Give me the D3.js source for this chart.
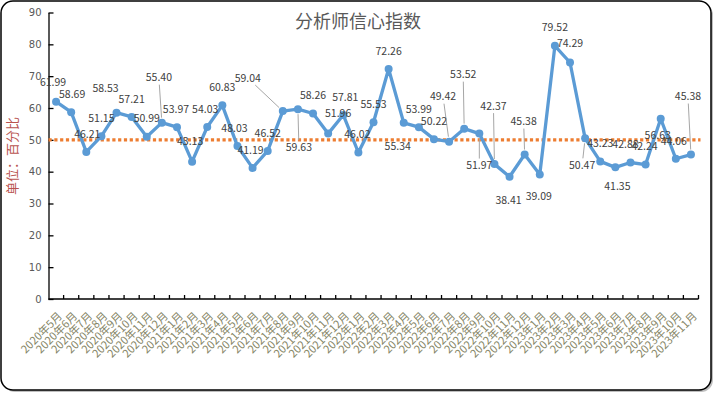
<!DOCTYPE html>
<html>
<head>
<meta charset="utf-8">
<script src="https://cdn.jsdelivr.net/npm/d3@7"></script>
<style>
  body { margin: 0; background: #fff; }
  #chart { width: 715px; height: 394px; }
</style>
</head>
<body>
<div id="chart"></div>
<script>
// months on the category axis
var months = [
    "2020年5月", "2020年6月", "2020年7月", "2020年8月", "2020年9月", "2020年10月", "2020年11月", "2020年12月",
    "2021年1月", "2021年2月", "2021年3月", "2021年4月", "2021年5月", "2021年6月", "2021年7月", "2021年8月",
    "2021年9月", "2021年10月", "2021年11月", "2021年12月", "2022年1月", "2022年2月", "2022年3月", "2022年4月",
    "2022年5月", "2022年6月", "2022年7月", "2022年8月", "2022年9月", "2022年10月", "2022年11月", "2022年12月",
    "2023年1月", "2023年2月", "2023年3月", "2023年4月", "2023年5月", "2023年6月", "2023年7月", "2023年8月",
    "2023年9月", "2023年10月", "2023年11月"
];

// 分析师信心指数
var confidence = [
    61.99, 58.69, 46.21, 51.15, 58.53, 57.21, 50.99, 55.40, 53.97, 43.13,
    54.03, 60.83, 48.03, 41.19, 46.52, 59.04, 59.63, 58.26, 51.96, 57.81,
    46.02, 55.53, 72.26, 55.34, 53.99, 50.22, 49.42, 53.52, 51.97, 42.37,
    38.41, 45.38, 39.09, 79.52, 74.29, 50.47, 43.23, 41.35, 42.88, 42.24,
    56.63, 44.06, 45.38
];

var yTicks = [0, 10, 20, 30, 40, 50, 60, 70, 80, 90];
var referenceLevel = 50;

// where each data label sits, relative to its point (label centre)
var labelDx = [-3, 1, 1, 0, -11, 0, 0, -3, -1, -2, -2, 0, -3, -2, 0, -35, 1, 0, 10, 2,
    -1, 0, 0, -6, 0, 0, -6, -1, 0, -1, -1, -1, -1, 0, 0, -3, 0, 2, -5, -1, -3, -2, -3];
var labelDy = [-19, -18, -18, -18, -24, -18, -18, -45, -18, -20, -18, -18, -18, -18, -18, -33, 38, -18, -20, -18,
    -18, -18, -18, 23, -18, -18, -45, -54, 32, -58, 24, -33, 22, -19, -19, 27, -18, 19, -18, -18, 17, -17, -58];

var width = 715, height = 394;
var margin = { left: 48.5, right: 698.5, top: 12.5, bottom: 299 };
var cjk = "'Noto Sans CJK SC', 'Noto Sans', sans-serif";

var svg = d3.select("#chart").append("svg")
    .attr("width", width)
    .attr("height", height);

// chart frame with a little shadow
svg.append("rect")
    .attr("x", 3).attr("y", 3)
    .attr("width", 710).attr("height", 389)
    .attr("rx", 12)
    .style("fill", "#bfbfbf");
svg.append("rect")
    .attr("x", 1).attr("y", 1)
    .attr("width", 710).attr("height", 389)
    .attr("rx", 12)
    .style("fill", "#fff")
    .style("stroke", "#000")
    .style("stroke-width", 1.5);

var x = d3.scaleBand()
    .domain(months)
    .range([margin.left, margin.right]);
var y = d3.scaleLinear()
    .domain([0, 90])
    .range([margin.bottom, margin.top]);

var cx = function(i) { return x(months[i]) + x.bandwidth() / 2; };

// title
svg.append("text")
    .attr("x", 358)
    .attr("y", 28)
    .attr("text-anchor", "middle")
    .text("分析师信心指数")
    .style("font-family", cjk)
    .style("font-size", "18px")
    .style("fill", "#595959");

// y axis label
svg.append("text")
    .attr("transform", "translate(17,156) rotate(-90)")
    .attr("text-anchor", "middle")
    .text("单位：百分比")
    .style("font-family", cjk)
    .style("font-size", "13px")
    .style("fill", "#b9534f");

// y axis, ticks point inward
var yAxis = svg.append("g")
    .attr("transform", "translate(" + margin.left + ",0)")
    .call(d3.axisLeft(y).tickValues(yTicks).tickSizeInner(-5).tickSizeOuter(0).tickPadding(7));
yAxis.select(".domain").style("stroke", "#000").style("stroke-width", 1.3);
yAxis.selectAll(".tick line").style("stroke", "#000").style("stroke-width", 1.3);
yAxis.selectAll("text")
    .style("font-family", "'DejaVu Sans', sans-serif")
    .style("font-size", "10px")
    .style("fill", "#595959");

// x axis line and category boundary ticks
svg.append("line")
    .attr("x1", margin.left).attr("x2", margin.right)
    .attr("y1", y(0)).attr("y2", y(0))
    .style("stroke", "#000")
    .style("stroke-width", 1.5);
var bounds = months.map(function(m) { return x(m); }).concat([margin.right]);
svg.selectAll(".xtick")
    .data(bounds.slice(1))
    .enter().append("line")
    .attr("class", "xtick")
    .attr("x1", function(d) { return d; })
    .attr("x2", function(d) { return d; })
    .attr("y1", y(0))
    .attr("y2", y(0) - 4)
    .style("stroke", "#000")
    .style("stroke-width", 1.3);

// rotated month labels
svg.selectAll(".xlabel")
    .data(months)
    .enter().append("text")
    .attr("class", "xlabel")
    .attr("transform", function(d, i) { return "translate(" + (cx(i) + 1) + ",311) rotate(-45)"; })
    .attr("dy", "0.75em")
    .attr("text-anchor", "end")
    .text(function(d) { return d; })
    .style("font-family", cjk)
    .style("font-size", "11px")
    .style("fill", "#858566");

// reference level at 50
svg.append("line")
    .attr("x1", margin.left).attr("x2", margin.right + 2)
    .attr("y1", y(referenceLevel)).attr("y2", y(referenceLevel))
    .style("stroke", "#ed7d31")
    .style("stroke-width", 3.2)
    .style("stroke-dasharray", "3.2,2.6");

// leader lines for labels pushed away from their point
var halfW = 14, halfH = 7;
confidence.forEach(function(v, i) {
    var dx = labelDx[i], dy = labelDy[i];
    if (Math.sqrt(dx * dx + dy * dy) < 27) return;
    var px = cx(i), py = y(v);
    var t = Math.min(Math.abs(dx) > 0 ? halfW / Math.abs(dx) : 1, Math.abs(dy) > 0 ? halfH / Math.abs(dy) : 1);
    var ex = px + dx * (1 - t), ey = py + dy * (1 - t);
    var len = Math.sqrt(dx * dx + dy * dy);
    svg.append("line")
        .attr("x1", px + dx / len * 5)
        .attr("y1", py + dy / len * 5)
        .attr("x2", ex)
        .attr("y2", ey)
        .style("stroke", "#a6a6a6")
        .style("stroke-width", 1);
});

// the series line
var line = d3.line()
    .x(function(d, i) { return cx(i); })
    .y(function(d) { return y(d); });
svg.append("path")
    .datum(confidence)
    .attr("d", line)
    .style("fill", "none")
    .style("stroke", "#5b9bd5")
    .style("stroke-width", 3.3)
    .style("stroke-linejoin", "round");

svg.selectAll(".dot")
    .data(confidence)
    .enter().append("circle")
    .attr("class", "dot")
    .attr("cx", function(d, i) { return cx(i); })
    .attr("cy", function(d) { return y(d); })
    .attr("r", 4)
    .style("fill", "#5b9bd5");

// data labels
svg.selectAll(".vlabel")
    .data(confidence)
    .enter().append("text")
    .attr("class", "vlabel")
    .attr("x", function(d, i) { return cx(i) + labelDx[i]; })
    .attr("y", function(d, i) { return y(d) + labelDy[i]; })
    .attr("dy", "0.35em")
    .attr("text-anchor", "middle")
    .text(function(d) { return d.toFixed(2); })
    .style("font-family", cjk)
    .style("font-size", "10.5px")
    .style("fill", "#404040");
</script>
</body>
</html>
